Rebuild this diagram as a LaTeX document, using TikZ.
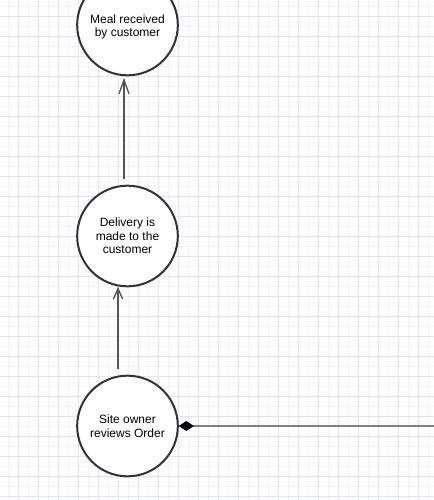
\documentclass[tikz,border=0pt]{standalone}
\usepackage{fontspec}
\setmainfont{Liberation Sans}
\usetikzlibrary{arrows.meta}
\definecolor{gridminor}{HTML}{F3F3FF}
\definecolor{gridmajor}{HTML}{E3E3FF}
\definecolor{edgecol}{HTML}{333333}
\definecolor{conncol}{HTML}{555555}
\definecolor{linecol}{HTML}{808080}
\tikzset{
  statecircle/.style={circle, draw=edgecol, line width=1.5pt, fill=white,
    minimum size=75.5pt, inner sep=0pt, align=center,
    font=\fontsize{9pt}{10.2pt}\selectfont},
  circtext/.style={inner sep=0pt, align=center,
    font=\fontsize{9pt}{10.2pt}\selectfont},
  conn/.style={draw=conncol, line width=1pt},
  gridmin/.style={draw=gridminor, line width=0.75pt},
  gridmaj/.style={draw=gridmajor, line width=0.75pt},
}
\begin{document}
\begin{tikzpicture}[x=0.75pt, y=-0.75pt]
\useasboundingbox (0,0) rectangle (434,500);
\fill[white] (0,0) rectangle (434,500);
% grid
\foreach \x in {8,28,...,428} \draw[gridmin] (\x,0) -- (\x,500);
\foreach \y in {6,26,...,496} \draw[gridmin] (0,\y) -- (434,\y);
\foreach \x in {18,38,...,418} \draw[gridmaj] (\x,0) -- (\x,500);
\foreach \y in {16,36,...,496} \draw[gridmaj] (0,\y) -- (434,\y);
% nodes
\node[statecircle] (c1) at (127.5,25) {};
\node[circtext] (c1t) at ([shift={(0,2)}]c1.center) {Meal received\\by customer};
\node[statecircle] (c2) at (127.5,236) {Delivery is\\made to the\\customer};
\node[statecircle] (c3) at (127.5,426) {Site owner\\reviews Order};
\coordinate (rightend) at (434,426);
% connectors
\draw[conn, -{Straight Barb[length=10.5pt, width=7.5pt, line width=1pt]}]
  ([shift={(-3.5,-6)}]c2.north) -- ([shift={(-3.5,1.5)}]c1.south);
\draw[conn, -{Straight Barb[length=8pt, width=7pt, line width=1pt]}]
  ([shift={(-9.5,-6)}]c3.north) -- ([shift={(-9.5,-0.5)}]c2.south);
\draw[draw=linecol, line width=1.5pt, {Diamond[length=11.25pt, width=7.5pt, fill=black, color=black, line width=0pt]}-]
  (c3.east) -- (rightend);
\end{tikzpicture}
\end{document}
